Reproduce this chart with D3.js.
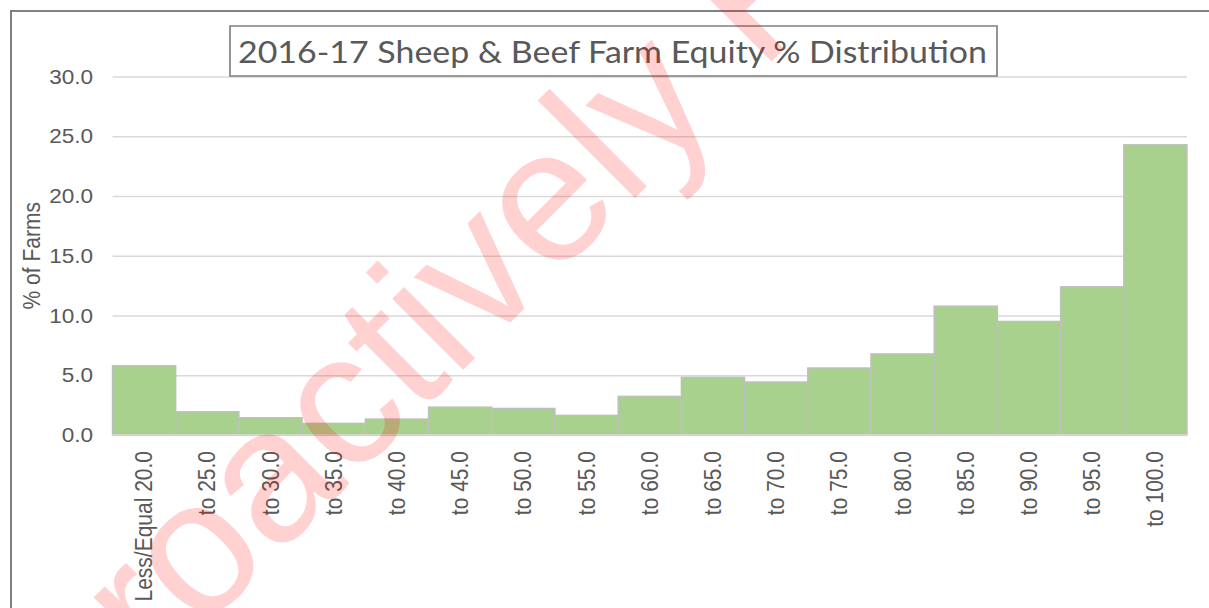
<!DOCTYPE html>
<html>
<head>
<meta charset="utf-8">
<script src="https://cdn.jsdelivr.net/npm/d3@7"></script>
<style>
  html, body { margin: 0; padding: 0; background: #fff; }
  svg { display: block; }
</style>
</head>
<body>
<svg id="chart" width="1209" height="608"></svg>
<script>
// ---- data ----
const categories = ["Less/Equal 20.0", "to 25.0", "to 30.0", "to 35.0", "to 40.0", "to 45.0",
  "to 50.0", "to 55.0", "to 60.0", "to 65.0", "to 70.0", "to 75.0", "to 80.0", "to 85.0",
  "to 90.0", "to 95.0", "to 100.0"];
const percentFarms = [5.8, 1.95, 1.45, 0.98, 1.34, 2.34, 2.23, 1.65, 3.24, 4.83, 4.44, 5.61,
  6.79, 10.79, 9.51, 12.41, 24.29];
const yTicks = [0, 5, 10, 15, 20, 25, 30];
const titleText = "2016-17 Sheep & Beef Farm Equity % Distribution";
const yAxisTitle = "% of Farms";
const watermarkText = "Proactively Released";

// ---- layout ----
const W = 1209, H = 608;
const sx = 1.1;            // horizontal stretch of the original picture
const X = v => v / sx;     // screen x -> inner x
const plot = { left: X(112.5), right: X(1187), top: 76.5, bottom: 435 };
const textColor = "#595959";
const font = "'Liberation Sans', Arial, sans-serif";

const svg = d3.select("#chart");
svg.append("rect").attr("width", W).attr("height", H).attr("fill", "#fff");

// outer chart frame (extends past the window)
svg.append("rect")
  .attr("x", 11).attr("y", 11).attr("width", W + 20).attr("height", H + 20)
  .attr("fill", "#fff").attr("stroke", "#808080").attr("stroke-width", 2);

const g = svg.append("g").attr("transform", `scale(${sx},1)`);

const x = d3.scaleBand().domain(categories).range([plot.left, plot.right]).padding(0);
const y = d3.scaleLinear().domain([0, 30]).range([plot.bottom, plot.top]);

// gridlines
const grid = g.append("g").attr("transform", `translate(${plot.left},0)`)
  .call(d3.axisLeft(y).tickValues(yTicks).tickSize(-(plot.right - plot.left)).tickFormat(""));
grid.select(".domain").remove();
grid.selectAll(".tick line").attr("stroke", "#d9d9d9").attr("stroke-width", 1.5);

// bars
g.append("g").selectAll("rect").data(percentFarms).join("rect")
  .attr("x", (d, i) => x(categories[i]))
  .attr("y", d => y(d))
  .attr("width", x.bandwidth())
  .attr("height", d => y(0) - y(d))
  .attr("fill", "#a9d18e")
  .attr("stroke", "#bfbfbf")
  .attr("stroke-width", 1.3);

// baseline
g.append("line").attr("x1", plot.left).attr("x2", plot.right)
  .attr("y1", y(0)).attr("y2", y(0)).attr("stroke", "#d9d9d9").attr("stroke-width", 1.5);

// y axis labels
const yAx = g.append("g").attr("transform", `translate(${plot.left},0)`)
  .call(d3.axisLeft(y).tickValues(yTicks).tickSize(0).tickPadding(X(19.5)).tickFormat(d3.format(".1f")));
yAx.select(".domain").remove();
yAx.selectAll("text").attr("fill", textColor).style("font-family", font).style("font-size", "20.5px");

// x axis labels
const xAx = g.append("g").attr("transform", `translate(0,${plot.bottom})`)
  .call(d3.axisBottom(x).tickSize(0));
xAx.select(".domain").remove();
xAx.selectAll("text")
  .attr("fill", textColor).style("font-family", font).style("font-size", "21px")
  .attr("transform", "rotate(-90)")
  .attr("x", -16).attr("y", 0).attr("dy", "0.35em")
  .attr("text-anchor", "end");

// y axis title
g.append("text")
  .attr("transform", `translate(${X(32)},${(plot.top + plot.bottom) / 2}) rotate(-90)`)
  .attr("text-anchor", "middle").attr("dy", "0.35em")
  .attr("fill", textColor).style("font-family", font).style("font-size", "21px")
  .text(yAxisTitle);

// title box
g.append("rect")
  .attr("x", X(230)).attr("y", 26).attr("width", X(997) - X(230)).attr("height", 50)
  .attr("fill", "#fff").attr("stroke", "#7f7f7f").attr("stroke-width", 1.5);
g.append("text")
  .attr("x", X(238)).attr("y", 63)
  .attr("textLength", X(987) - X(238)).attr("lengthAdjust", "spacingAndGlyphs")
  .attr("fill", textColor).style("font-family", "Lato, 'Open Sans', sans-serif").style("font-size", "30px")
  .text(titleText);

// watermark
svg.append("text")
  .attr("transform", "translate(66,767) rotate(-45)")
  .attr("fill", "#ff0000").attr("fill-opacity", 0.18)
  .style("font-family", font).style("font-size", "190px")
  .text(watermarkText);
</script>
</body>
</html>
